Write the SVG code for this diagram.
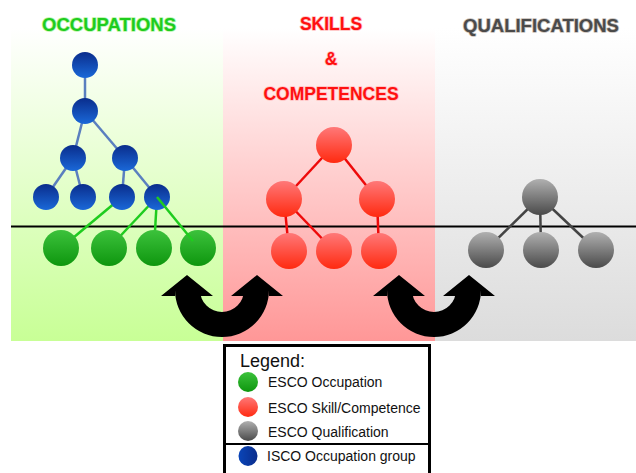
<svg xmlns="http://www.w3.org/2000/svg" width="636" height="473" viewBox="0 0 636 473">
<defs>
<linearGradient id="bgG" x1="0" y1="0" x2="0" y2="1"><stop offset="0" stop-color="#ffffff"/><stop offset="1" stop-color="#c8ff96"/></linearGradient>
<linearGradient id="bgR" x1="0" y1="0" x2="0" y2="1"><stop offset="0" stop-color="#ffffff"/><stop offset="1" stop-color="#ff9797"/></linearGradient>
<linearGradient id="bgQ" x1="0" y1="0" x2="0" y2="1"><stop offset="0" stop-color="#ffffff"/><stop offset="1" stop-color="#dcdcdc"/></linearGradient>
<linearGradient id="nB" x1="0" y1="0" x2="0" y2="1"><stop offset="0" stop-color="#0a2d8c"/><stop offset="1" stop-color="#1a68d8"/></linearGradient>
<linearGradient id="nBl" x1="0" y1="0" x2="1" y2="0"><stop offset="0" stop-color="#0a45b8"/><stop offset="1" stop-color="#0a2d8c"/></linearGradient>
<linearGradient id="nG" x1="0" y1="0" x2="0" y2="1"><stop offset="0" stop-color="#3cc23c"/><stop offset="1" stop-color="#0e960e"/></linearGradient>
<linearGradient id="nR" x1="0" y1="0" x2="0" y2="1"><stop offset="0" stop-color="#ff7878"/><stop offset="1" stop-color="#ff2a10"/></linearGradient>
<linearGradient id="nQ" x1="0" y1="0" x2="0" y2="1"><stop offset="0" stop-color="#b0b0b0"/><stop offset="1" stop-color="#4a4a4a"/></linearGradient>
<path id="uarrow" d="M175,296 L161,296 L187,275 L213,296 L200,296 L200,290 A22,22 0 0 0 244,290 L244,296 L231,296 L257,275 L283,296 L269,296 L269,290 A47,47 0 0 1 175,290 Z"/>
</defs>
<style>
.title{font-family:"Liberation Sans",Arial,sans-serif;font-weight:bold;text-anchor:middle;paint-order:stroke;stroke-width:1.6;stroke-linejoin:round}
.leg{font-family:"Liberation Sans",Arial,sans-serif;font-size:14px;fill:#111}
.eB{stroke:#5a7fbf;stroke-width:2.5;fill:none}
.eG{stroke:#1fcc1f;stroke-width:2.5;fill:none}
.eR{stroke:#ee0a0a;stroke-width:2.5;fill:none}
.eQ{stroke:#444;stroke-width:2.5;fill:none}
.b{fill:url(#nB)}
.g{fill:url(#nG)}
.r{fill:url(#nR)}
.q{fill:url(#nQ)}
</style>
<rect width="636" height="473" fill="#ffffff"/>
<g id="panels">
<rect x="11" y="28" width="212" height="313" fill="url(#bgG)"/>
<rect x="223" y="28" width="212" height="313" fill="url(#bgR)"/>
<rect x="435" y="28" width="201" height="313" fill="url(#bgQ)"/>
</g>
<g id="titles">
<text class="title" x="109" y="31" font-size="18.5" fill="#1ecc1e" stroke="#b8f5a8">OCCUPATIONS</text>
<text class="title" x="331" y="30" font-size="17.5" fill="#ff1010" stroke="#ffc0c0">SKILLS</text>
<text class="title" x="331" y="65" font-size="17.5" fill="#ff1010" stroke="#ffc0c0">&amp;</text>
<text class="title" x="331" y="100" font-size="17.5" fill="#ff1010" stroke="#ffc0c0">COMPETENCES</text>
<text class="title" x="541" y="32" font-size="18.5" fill="#4a4a4a" stroke="#c8c0b8">QUALIFICATIONS</text>
</g>
<line id="divider" x1="11" y1="226.5" x2="636" y2="226.5" stroke="#000" stroke-width="2.2"/>
<g id="connectors">
<line class="eB" x1="85" y1="65" x2="85" y2="111"/>
<line class="eB" x1="85" y1="111" x2="73" y2="158"/>
<line class="eB" x1="85" y1="111" x2="125" y2="158"/>
<line class="eB" x1="73" y1="158" x2="46" y2="197"/>
<line class="eB" x1="73" y1="158" x2="83" y2="197"/>
<line class="eB" x1="125" y1="158" x2="122" y2="197"/>
<line class="eB" x1="125" y1="158" x2="157" y2="197"/>
<line class="eG" x1="122" y1="197" x2="61" y2="248"/>
<line class="eG" x1="157" y1="197" x2="109" y2="248"/>
<line class="eG" x1="157" y1="197" x2="154" y2="248"/>
<line class="eR" x1="334" y1="145" x2="284" y2="199"/>
<line class="eR" x1="334" y1="145" x2="377" y2="199"/>
<line class="eR" x1="284" y1="199" x2="289" y2="251"/>
<line class="eR" x1="284" y1="199" x2="334" y2="251"/>
<line class="eR" x1="377" y1="199" x2="379" y2="251"/>
<line class="eQ" x1="540" y1="197" x2="486" y2="250"/>
<line class="eQ" x1="540" y1="197" x2="541" y2="250"/>
<line class="eQ" x1="540" y1="197" x2="596" y2="250"/>
</g>
<g id="isco-nodes">
<circle id="isco1" class="b" cx="85" cy="65" r="13"/>
<circle id="isco2" class="b" cx="85" cy="111" r="13"/>
<circle id="isco3a" class="b" cx="73" cy="158" r="13"/>
<circle id="isco3b" class="b" cx="125" cy="158" r="13"/>
<circle id="isco4a" class="b" cx="46" cy="197" r="13"/>
<circle id="isco4b" class="b" cx="83" cy="197" r="13"/>
<circle id="isco4c" class="b" cx="122" cy="197" r="13"/>
<circle id="isco4d" class="b" cx="157" cy="197" r="13"/>
</g>
<g id="occupation-nodes">
<circle id="occ1" class="g" cx="61" cy="248" r="18"/>
<circle id="occ2" class="g" cx="109" cy="248" r="18"/>
<circle id="occ3" class="g" cx="154" cy="248" r="18"/>
<circle id="occ4" class="g" cx="198" cy="248" r="18"/>
</g>
<line class="eG" x1="157" y1="197" x2="193" y2="241"/>
<g id="skill-nodes">
<circle id="sk1" class="r" cx="334" cy="145" r="18"/>
<circle id="sk2a" class="r" cx="284" cy="199" r="18"/>
<circle id="sk2b" class="r" cx="377" cy="199" r="18"/>
<circle id="sk3a" class="r" cx="289" cy="251" r="18"/>
<circle id="sk3b" class="r" cx="334" cy="251" r="18"/>
<circle id="sk3c" class="r" cx="379" cy="251" r="18"/>
</g>
<g id="qual-nodes">
<circle id="q1" class="q" cx="540" cy="197" r="18"/>
<circle id="q2a" class="q" cx="486" cy="250" r="18"/>
<circle id="q2b" class="q" cx="541" cy="250" r="18"/>
<circle id="q2c" class="q" cx="596" cy="250" r="18"/>
</g>
<g id="arrows" fill="#000">
<use href="#uarrow"/>
<use href="#uarrow" transform="translate(212,0)"/>
</g>
<g id="legend">
<rect x="224.5" y="345.5" width="205" height="140" fill="#fff" stroke="#000" stroke-width="3"/>
<text x="240" y="367" font-family="Liberation Sans, Arial, sans-serif" font-size="18" fill="#111">Legend:</text>
<circle cx="248" cy="382" r="10" class="g"/>
<text class="leg" x="268" y="387">ESCO Occupation</text>
<circle cx="248" cy="407" r="10" class="r"/>
<text class="leg" x="268" y="413">ESCO Skill/Competence</text>
<circle cx="248" cy="431" r="10" class="q"/>
<text class="leg" x="268" y="437">ESCO Qualification</text>
<line x1="224" y1="444" x2="430" y2="444" stroke="#000" stroke-width="2"/>
<ellipse cx="248" cy="456" rx="9.5" ry="10" fill="url(#nBl)"/>
<text class="leg" x="267" y="461">ISCO Occupation group</text>
</g>
</svg>
